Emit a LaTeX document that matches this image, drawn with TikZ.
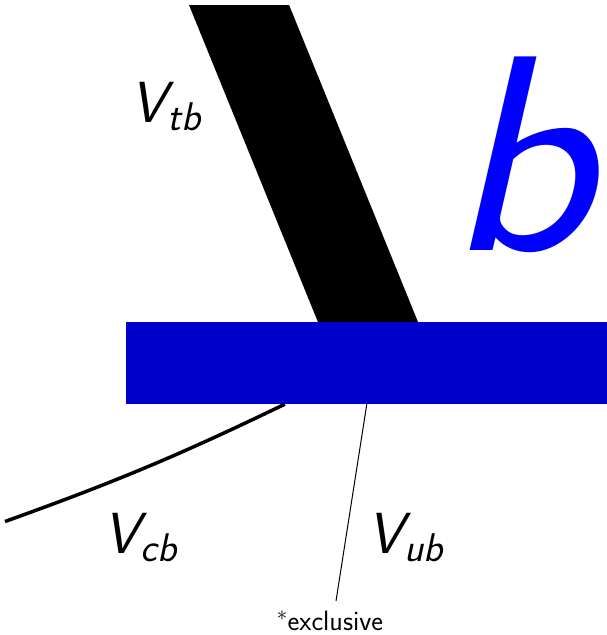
\documentclass[tikz,border=0pt]{standalone}
\usepackage{tikz}
\usetikzlibrary{calc, backgrounds}
\definecolor{barblue}{RGB}{0,0,204}
\definecolor{quarkblue}{RGB}{0,0,255}
\newcommand{\ckmlab}[1]{V\kern1pt\raisebox{-8pt}{\fontsize{40}{40}\selectfont #1}}

\begin{document}
\begin{tikzpicture}[x=1pt, y=-1pt,
  bar/.style={
    rectangle, fill=barblue, draw=none, inner sep=0pt,
    minimum width=481pt, minimum height=82.5pt,
  },
  band/.style={
    draw=black, line width=92.7pt, line cap=butt,
  },
  cline/.style={
    draw=black, line width=3.5pt,
  },
  uline/.style={
    draw=black, line width=1pt,
  },
  ckm/.style={
    anchor=base west, inner sep=0pt,
    font=\sffamily\itshape\fontsize{58}{60}\selectfont,
  },
]
\useasboundingbox (0,0) rectangle (607,635);

% --- b quark bar ---
\node[bar] (bbar) at (366.5,362.75) {};

% --- top coupling (thick band, cut at the top) ---
\coordinate (ttop) at (224.8,-30);
\coordinate (tfoot) at (375.3,340);
\begin{scope}[on background layer]
  \clip (0,5) rectangle (607,635);
  \draw[band] (ttop) -- (tfoot);
\end{scope}

% --- lower couplings ---
\coordinate (cend) at (5,521.5);
\coordinate (uend) at (336,601);
\draw[cline] ([xshift=159pt]bbar.south west) to[bend left=3] (cend);
\draw[uline] ([xshift=241pt]bbar.south west) -- (uend);

% --- labels ---
\node[ckm] (vtb) at (130,122) {\ckmlab{tb}};
\node[ckm] (vcb) at (103,553) {\ckmlab{cb}};
\node[ckm] (vub) at (367,553) {\ckmlab{ub}};
\node[anchor=base west, inner sep=0pt, text=quarkblue, xscale=1.08,
      font=\sffamily\itshape\fontsize{279}{279}\selectfont] (bq) at (447,250) {b};
\node[anchor=base, inner sep=0pt,
      font=\sffamily\fontsize{28}{30}\selectfont] (excl) at (330,630) {$^*$exclusive};

\end{tikzpicture}
\end{document}
